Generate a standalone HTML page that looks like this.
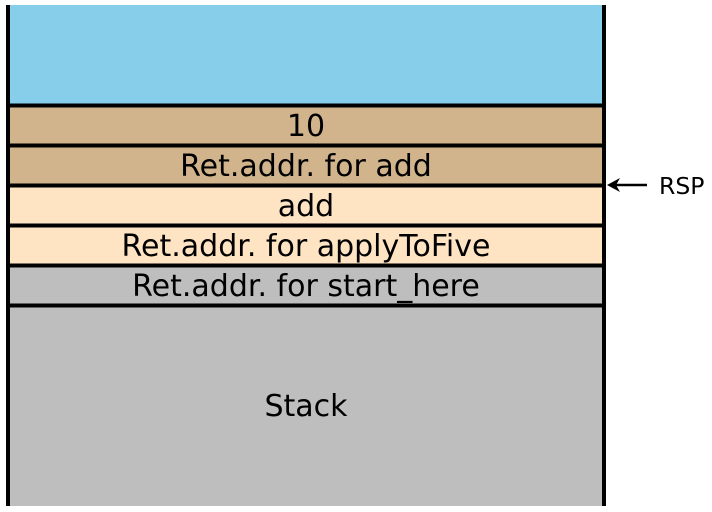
<!DOCTYPE html>
<html><head><meta charset="utf-8"><style>
html,body{margin:0;padding:0;background:#fff;}
svg{display:block;}
text{font-family:"DejaVu Sans","Liberation Sans",sans-serif;font-size:30px;fill:#000;}
</style></head><body>
<svg width="712" height="512" viewBox="0 0 712 512">
<rect x="8" y="5" width="596" height="100" fill="#87ceeb"/>
<rect x="8" y="105" width="596" height="80" fill="#d2b48c"/>
<rect x="8" y="185" width="596" height="80" fill="#ffe4c4"/>
<rect x="8" y="265" width="596" height="241" fill="#bebebe"/>
<g stroke="#000" stroke-width="4">
<line x1="8" y1="5" x2="8" y2="506"/>
<line x1="604" y1="5" x2="604" y2="506"/>
<line x1="6" y1="105.5" x2="606" y2="105.5"/>
<line x1="6" y1="145.5" x2="606" y2="145.5"/>
<line x1="6" y1="185.5" x2="606" y2="185.5"/>
<line x1="6" y1="225.5" x2="606" y2="225.5"/>
<line x1="6" y1="265.5" x2="606" y2="265.5"/>
<line x1="6" y1="305.5" x2="606" y2="305.5"/>
</g>
<g text-anchor="middle">
<text x="306" y="136">10</text>
<text x="306" y="176">Ret.addr. for add</text>
<text x="306" y="216">add</text>
<text x="306" y="256">Ret.addr. for applyToFive</text>
<text x="306" y="296">Ret.addr. for start_here</text>
<text x="306" y="416">Stack</text>
</g>
<line x1="610" y1="185" x2="647" y2="185" stroke="#000" stroke-width="2.5"/>
<path d="M607 185 L620 178 L616 185 L620 192 Z" fill="#000"/>
<text x="659" y="194" style="font-size:23.5px">RSP</text>
</svg>
</body></html>
